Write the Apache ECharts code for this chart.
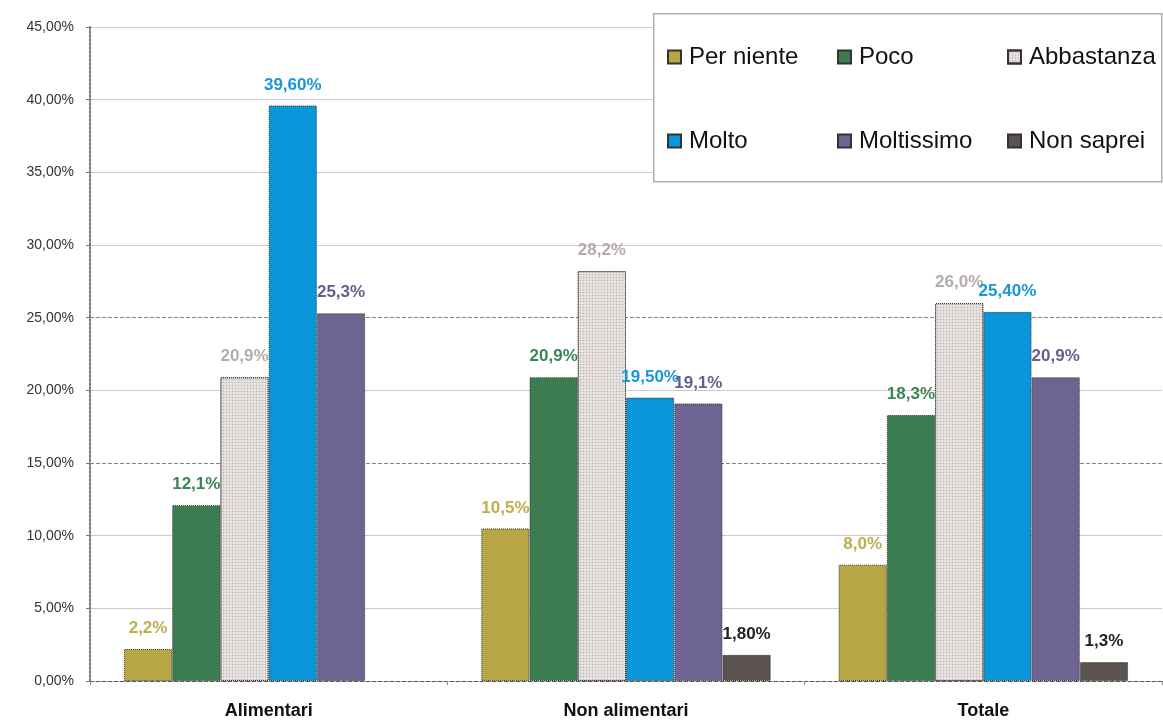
<!DOCTYPE html>
<html>
<head>
<meta charset="utf-8">
<script src="https://cdn.jsdelivr.net/npm/echarts@6/dist/echarts.min.js"></script>
<style>html,body{margin:0;padding:0;background:#fff}#c{width:1163px;height:720px}</style>
</head>
<body>
<div id="c"></div>
<script>
const categories = ['Alimentari', 'Non alimentari', 'Totale'];
const seriesNames = ['Per niente', 'Poco', 'Abbastanza', 'Molto', 'Moltissimo', 'Non saprei'];
const perNiente = [2.2, 10.5, 8.0];
const poco = [12.1, 20.9, 18.3];
const abbastanza = [20.9, 28.2, 26.0];
const molto = [39.6, 19.5, 25.4];
const moltissimo = [25.3, 19.1, 20.9];
const nonSaprei = [null, 1.8, 1.3];
const perNienteLabels = ['2,2%', '10,5%', '8,0%'];
const pocoLabels = ['12,1%', '20,9%', '18,3%'];
const abbastanzaLabels = ['20,9%', '28,2%', '26,0%'];
const moltoLabels = ['39,60%', '19,50%', '25,40%'];
const moltissimoLabels = ['25,3%', '19,1%', '20,9%'];
const nonSapreiLabels = ['', '1,80%', '1,3%'];
const yTickLabels = ['0,00%', '5,00%', '10,00%', '15,00%', '20,00%', '25,00%', '30,00%', '35,00%', '40,00%', '45,00%'];
const dashedLevels = [15, 25];

const values = [perNiente, poco, abbastanza, molto, moltissimo, nonSaprei];
const labels = [perNienteLabels, pocoLabels, abbastanzaLabels, moltoLabels, moltissimoLabels, nonSapreiLabels];
const fills = ['#b6a744', '#3b7d50', '#e6e2e0', '#0b95d9', '#6e6491', '#5b5350'];
const labelColors = ['#bfae4c', '#3b8552', '#b3acaa', '#1597d8', '#675d8e', '#222222'];

const chart = echarts.init(document.getElementById('c'));
const series = seriesNames.map((name, i) => {
  const itemStyle = {
    color: fills[i],
    borderColor: '#333',
    borderWidth: 1,
    borderType: 'dotted'
  };
  if (i === 2) {
    itemStyle.decal = {symbol: 'rect', symbolSize: 0.45, color: '#bdb5b3', dashArrayX: [[3, 0]], dashArrayY: [3, 0], rotation: 0};
  }
  const s = {
    name: name,
    type: 'bar',
    barGap: '0%',
    barCategoryGap: '19%',
    data: values[i],
    itemStyle: itemStyle,
    label: {
      show: true,
      position: 'top',
      distance: 12,
      fontFamily: 'Liberation Sans, Arial',
      fontWeight: 'bold',
      fontSize: 17,
      color: labelColors[i],
      formatter: p => labels[i][p.dataIndex]
    }
  };
  if (i === 0) {
    s.markLine = {
      silent: true, symbol: 'none', z: 1, animation: false,
      label: {show: false},
      lineStyle: {type: 'dashed', color: '#8a8282', width: 1},
      data: dashedLevels.map(v => ({yAxis: v}))
    };
  }
  return s;
});

const legendBase = {
  orient: 'vertical',
  itemWidth: 13,
  itemHeight: 13,
  itemGap: 60,
  icon: 'rect',
  z: 6,
  textStyle: {fontFamily: 'Liberation Sans, Arial', fontSize: 24, color: '#111', padding: [0, 0, 0, 3]},
  top: 40
};

const splitColors = yTickLabels.map((t, k) => dashedLevels.indexOf(k * 5) >= 0 || k === 0 ? 'transparent' : '#d2c9c9');

chart.setOption({
  animation: false,
  grid: {left: 90, right: 1, top: 27, bottom: 39},
  legend: [
    Object.assign({}, legendBase, {left: 662, data: ['Per niente', 'Molto']}),
    Object.assign({}, legendBase, {left: 832, data: ['Poco', 'Moltissimo']}),
    Object.assign({}, legendBase, {left: 1002, data: ['Abbastanza', 'Non saprei']})
  ],
  graphic: [{
    type: 'rect', left: 653, top: 13, z: 5,
    shape: {width: 508, height: 168},
    style: {fill: '#fff', stroke: '#b5adab', lineWidth: 1.5}
  }],
  xAxis: {
    type: 'category',
    data: categories,
    axisLine: {lineStyle: {color: '#555', type: 'dashed', width: 1}},
    axisTick: {show: true, length: 4, lineStyle: {color: '#888'}},
    axisLabel: {fontFamily: 'Liberation Sans, Arial', fontWeight: 'bold', fontSize: 18, color: '#111', margin: 21}
  },
  yAxis: {
    type: 'value',
    min: 0, max: 45, interval: 5,
    axisLine: {show: true, lineStyle: {color: '#777', type: 'dotted', width: 2}},
    axisTick: {show: true, length: 4, lineStyle: {color: '#777'}},
    splitLine: {lineStyle: {color: splitColors, width: 1.2}},
    axisLabel: {fontFamily: 'Liberation Sans, Arial', fontSize: 14, color: '#333', margin: 16,
      formatter: v => yTickLabels[Math.round(v / 5)]}
  },
  series: series
});
</script>
</body>
</html>
